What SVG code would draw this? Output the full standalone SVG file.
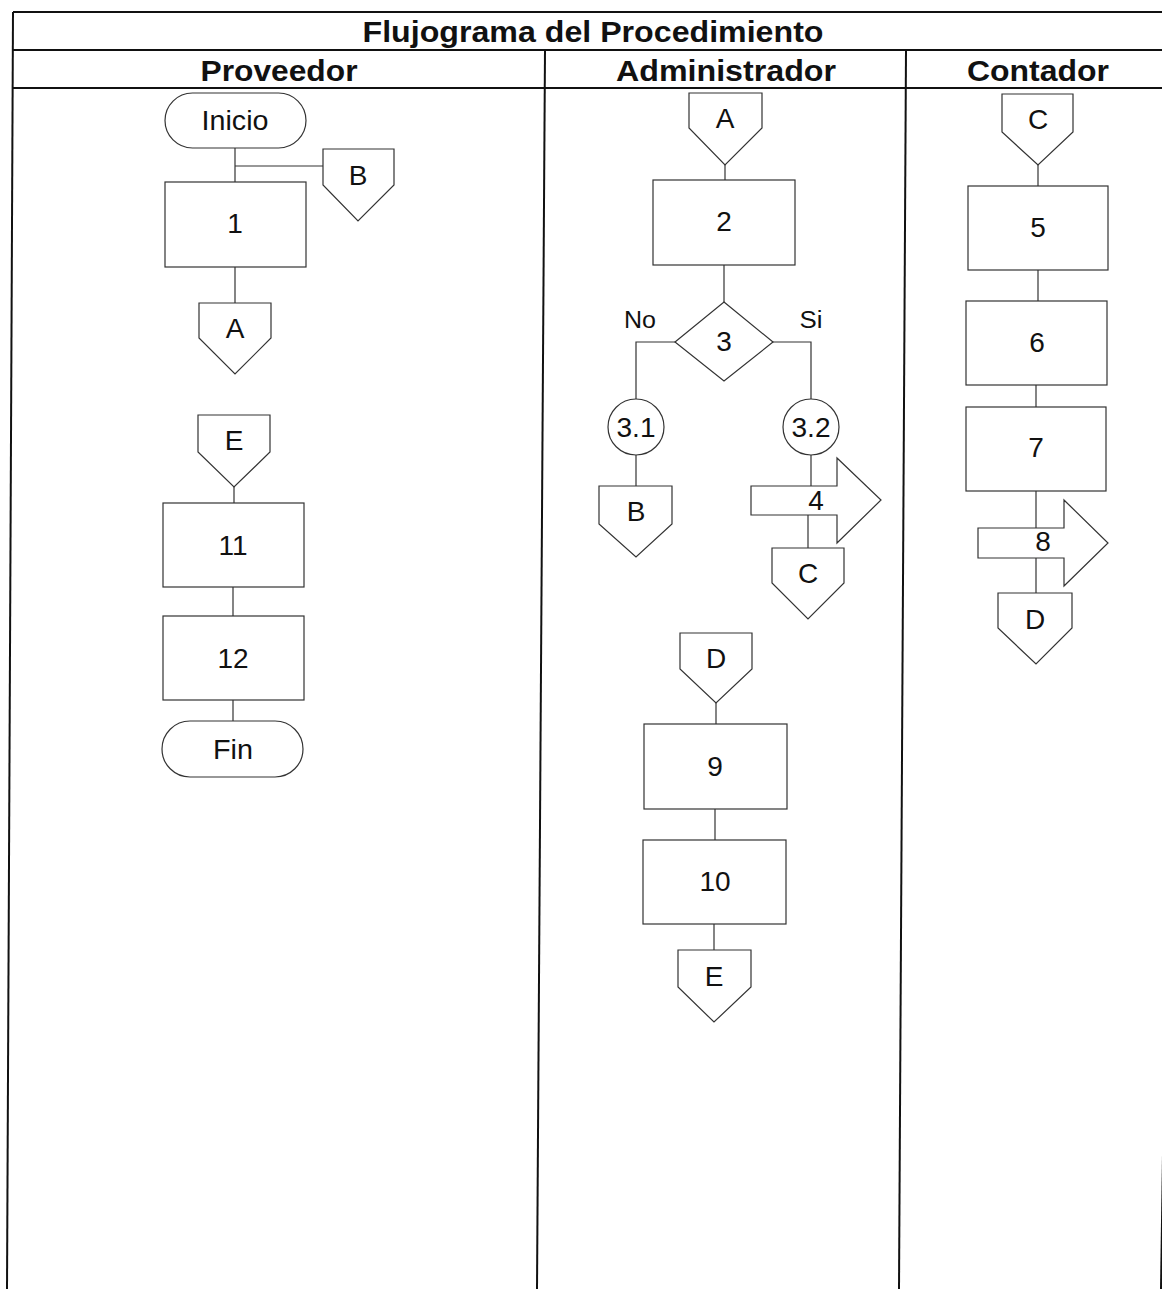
<svg xmlns="http://www.w3.org/2000/svg" width="1162" height="1289" viewBox="0 0 1162 1289">
<style>
.tbl{stroke:#111;stroke-width:2;fill:none}
.shp{fill:#fff;stroke:#333;stroke-width:1.2}
.ln{stroke:#333;stroke-width:1.2;fill:none}
.hd{font-family:"Liberation Sans",Arial,sans-serif;font-weight:bold;font-size:29px;fill:#111;text-anchor:middle}
.lb{font-family:"Liberation Sans",Arial,sans-serif;font-size:28px;fill:#111;text-anchor:middle}
.sm{font-family:"Liberation Sans",Arial,sans-serif;font-size:23px;fill:#111;text-anchor:middle}
</style>
<rect width="1162" height="1289" fill="#fff"/>
<g id="table">
<line class="tbl" x1="13" y1="12" x2="1162" y2="12"/>
<line class="tbl" x1="13" y1="50" x2="1162" y2="50"/>
<line class="tbl" x1="13" y1="88" x2="1162" y2="88"/>
<line class="tbl" x1="13" y1="12" x2="7" y2="1289"/>
<line class="tbl" x1="545" y1="50" x2="537" y2="1289"/>
<line class="tbl" x1="906" y1="50" x2="899" y2="1289"/>
<line class="tbl" x1="1180" y1="12" x2="1161" y2="1289"/>
<text class="hd" x="593" y="42" textLength="461" lengthAdjust="spacingAndGlyphs">Flujograma del Procedimiento</text>
<text class="hd" x="279" y="81" textLength="157" lengthAdjust="spacingAndGlyphs">Proveedor</text>
<text class="hd" x="726" y="81" textLength="220" lengthAdjust="spacingAndGlyphs">Administrador</text>
<text class="hd" x="1038" y="81" textLength="142" lengthAdjust="spacingAndGlyphs">Contador</text>
</g>
<g id="connectors">
<polyline class="ln" points="235,148 235,182"/>
<polyline class="ln" points="235,166 323,166"/>
<polyline class="ln" points="235,267 235,303"/>
<polyline class="ln" points="234,487 234,503"/>
<polyline class="ln" points="233,587 233,616"/>
<polyline class="ln" points="233,700 233,721"/>
<polyline class="ln" points="725,165 725,180"/>
<polyline class="ln" points="724,265 724,302"/>
<polyline class="ln" points="675,342 636,342 636,399"/>
<polyline class="ln" points="773,342 811,342 811,399"/>
<polyline class="ln" points="636,455 636,486"/>
<polyline class="ln" points="811,455 811,486"/>
<polyline class="ln" points="808,515 808,548"/>
<polyline class="ln" points="716,703 716,724"/>
<polyline class="ln" points="715,809 715,840"/>
<polyline class="ln" points="714,924 714,950"/>
<polyline class="ln" points="1038,165 1038,186"/>
<polyline class="ln" points="1038,270 1038,301"/>
<polyline class="ln" points="1036,385 1036,407"/>
<polyline class="ln" points="1036,491 1036,530"/>
<polyline class="ln" points="1036,558 1036,593"/>
</g>
<g id="inicio"><rect class="shp" x="165" y="93" width="141" height="55" rx="27.5"/><text class="lb" x="235" y="130" textLength="67" lengthAdjust="spacingAndGlyphs">Inicio</text></g>
<g id="offB1"><path class="shp" d="M323,149H394V185L358,221L323,185Z"/><text class="lb" x="358" y="185">B</text></g>
<g id="n1"><rect class="shp" x="165" y="182" width="141" height="85"/><text class="lb" x="235" y="233">1</text></g>
<g id="offA1"><path class="shp" d="M199,303H271V338L235,374L199,338Z"/><text class="lb" x="235" y="338">A</text></g>
<g id="offE2"><path class="shp" d="M198,415H270V452L234,487L198,452Z"/><text class="lb" x="234" y="450">E</text></g>
<g id="n11"><rect class="shp" x="163" y="503" width="141" height="84"/><text class="lb" x="233" y="555">11</text></g>
<g id="n12"><rect class="shp" x="163" y="616" width="141" height="84"/><text class="lb" x="233" y="668">12</text></g>
<g id="fin"><rect class="shp" x="162" y="721" width="141" height="56" rx="28"/><text class="lb" x="233" y="759" textLength="40" lengthAdjust="spacingAndGlyphs">Fin</text></g>
<g id="offA2"><path class="shp" d="M689,93H762V128L725,165L689,128Z"/><text class="lb" x="725" y="128">A</text></g>
<g id="n2"><rect class="shp" x="653" y="180" width="142" height="85"/><text class="lb" x="724" y="231">2</text></g>
<g id="n3"><path class="shp" d="M724,302L773,342L724,381L675,342Z"/><text class="lb" x="724" y="351">3</text></g>
<text class="sm" x="640" y="328" textLength="32" lengthAdjust="spacingAndGlyphs">No</text>
<text class="sm" x="811" y="328" textLength="23" lengthAdjust="spacingAndGlyphs">Si</text>
<g id="n31"><circle class="shp" cx="636" cy="427" r="28"/><text class="lb" x="636" y="437" textLength="39" lengthAdjust="spacingAndGlyphs">3.1</text></g>
<g id="n32"><circle class="shp" cx="811" cy="427" r="28"/><text class="lb" x="811" y="437" textLength="39" lengthAdjust="spacingAndGlyphs">3.2</text></g>
<g id="offB2"><path class="shp" d="M599,486H672V524L636,557L599,524Z"/><text class="lb" x="636" y="521">B</text></g>
<g id="n4"><path class="shp" d="M751,486H837V458L881,500L837,543V515H751Z"/><text class="lb" x="816" y="510">4</text></g>
<g id="offC2"><path class="shp" d="M772,548H844V583L808,619L772,583Z"/><text class="lb" x="808" y="583">C</text></g>
<g id="offD2"><path class="shp" d="M680,633H752V669L716,703L680,669Z"/><text class="lb" x="716" y="668">D</text></g>
<g id="n9"><rect class="shp" x="644" y="724" width="143" height="85"/><text class="lb" x="715" y="776">9</text></g>
<g id="n10"><rect class="shp" x="643" y="840" width="143" height="84"/><text class="lb" x="715" y="891">10</text></g>
<g id="offE1"><path class="shp" d="M678,950H751V987L714,1022L678,987Z"/><text class="lb" x="714" y="986">E</text></g>
<g id="offC1"><path class="shp" d="M1002,94H1073V132L1038,165L1002,132Z"/><text class="lb" x="1038" y="129">C</text></g>
<g id="n5"><rect class="shp" x="968" y="186" width="140" height="84"/><text class="lb" x="1038" y="237">5</text></g>
<g id="n6"><rect class="shp" x="966" y="301" width="141" height="84"/><text class="lb" x="1037" y="352">6</text></g>
<g id="n7"><rect class="shp" x="966" y="407" width="140" height="84"/><text class="lb" x="1036" y="457">7</text></g>
<g id="n8"><path class="shp" d="M978,528H1064V500L1108,543L1064,586V558H978Z"/><text class="lb" x="1043" y="551">8</text></g>
<g id="offD1"><path class="shp" d="M998,593H1072V628L1036,664L998,628Z"/><text class="lb" x="1035" y="629">D</text></g>
</svg>
